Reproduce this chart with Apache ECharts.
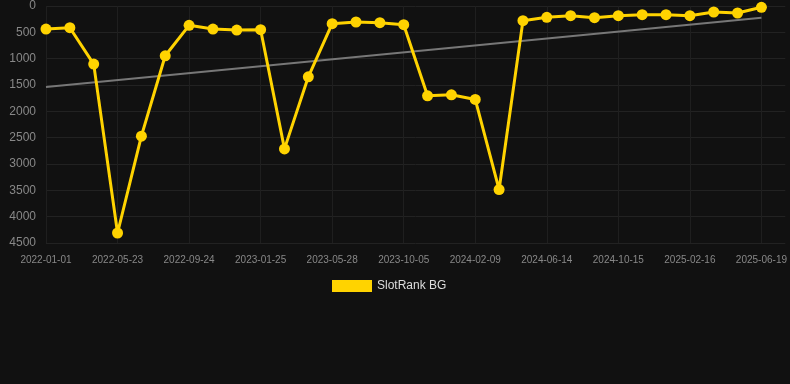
<!DOCTYPE html>
<html>
<head>
<meta charset="utf-8">
<script src="https://cdn.jsdelivr.net/npm/echarts@6/dist/echarts.min.js"></script>
<style>
html, body { margin: 0; padding: 0; background: #111111; }
#main { width: 790px; height: 384px; }
</style>
</head>
<body>
<div id="main"></div>
<script>
var dates = [
	'2022-01-01', '2022-02-17', '2022-04-06', '2022-05-23', '2022-06-03', '2022-08-13',
	'2022-09-24', '2022-10-05', '2022-12-15', '2023-01-25', '2023-02-20', '2023-04-18',
	'2023-05-28', '2023-07-10', '2023-08-22', '2023-10-05', '2023-11-15', '2023-12-27',
	'2024-02-09', '2024-03-20', '2024-05-02', '2024-06-14', '2024-07-25', '2024-09-03',
	'2024-10-15', '2024-11-25', '2025-01-06', '2025-02-16', '2025-03-30', '2025-05-09',
	'2025-06-19'
];

var ranks = [
	437, 412, 1103, 4310, 2471, 945, 367, 437, 456, 450, 2713,
	1344, 336, 304, 317, 355, 1705, 1686, 1774, 3485, 279,
	215, 184, 222, 184, 165, 165, 184, 114, 133, 25
];

var trendStart = 1540;
var trendEnd = 222;

var dom = document.getElementById("main");
var myChart = echarts.init(dom);

var option = {
	backgroundColor: '#111111',
	animation: false,
	legend: {
		data: ['SlotRank BG'],
		top: 275,
		left: 327,
		icon: 'rect',
		itemWidth: 40,
		itemHeight: 12,
		textStyle: {
			color: '#dddddd',
			fontSize: 12
		}
	},
	grid: {
		top: 6,
		left: 46,
		right: 0,
		bottom: 141
	},
	xAxis: {
		type: 'category',
		boundaryGap: false,
		data: dates,
		max: 31.17,
		axisLine: { show: false },
		axisTick: { show: false },
		axisLabel: {
			interval: 2,
			color: '#888888',
			fontSize: 10,
			margin: 12
		},
		splitLine: {
			show: true,
			interval: 2,
			lineStyle: { color: '#1f1f1f', width: 1 }
		}
	},
	yAxis: {
		type: 'value',
		inverse: true,
		min: 0,
		max: 4500,
		interval: 500,
		axisLine: { show: false },
		axisTick: { show: false },
		axisLabel: {
			color: '#888888',
			fontSize: 12,
			margin: 10,
			formatter: function (v) { return String(v); }
		},
		splitLine: {
			lineStyle: { color: '#222222', width: 1 }
		}
	},
	series: [{
		name: 'SlotRank BG',
		type: 'line',
		data: ranks,
		symbol: 'circle',
		symbolSize: 11,
		itemStyle: { color: '#ffd300' },
		lineStyle: { color: '#ffd300', width: 3 },
		z: 3
	}, {
		name: 'Trend',
		type: 'line',
		data: [[dates[0], trendStart], [dates[dates.length - 1], trendEnd]],
		symbol: 'none',
		lineStyle: { color: '#777777', width: 2 },
		z: 2
	}]
};

if (option && typeof option === "object") {
	myChart.setOption(option, true);
}
</script>
</body>
</html>
